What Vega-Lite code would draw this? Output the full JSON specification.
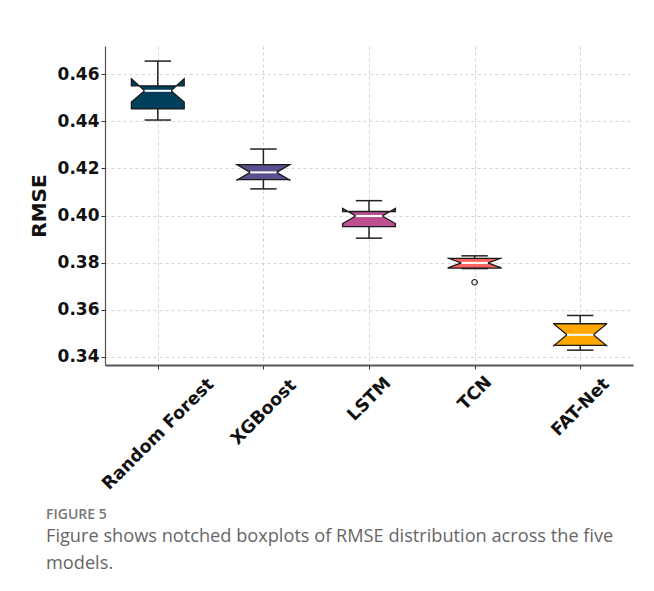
{
  "$schema": "https://vega.github.io/schema/vega-lite/v6.json",
  "width": 528,
  "height": 319,
  "autosize": {"type": "none"},
  "padding": {"left": 105, "top": 46, "right": 21, "bottom": 226},
  "background": "white",
  "config": {"view": {"stroke": null}, "font": "DejaVu Sans"},
  "title": {
    "text": "FIGURE 5",
    "subtitle": ["Figure shows notched boxplots of RMSE distribution across the five", "models."],
    "orient": "bottom",
    "anchor": "start",
    "frame": "group",
    "offset": 15,
    "dx": -59,
    "font": "Open Sans",
    "fontSize": 14,
    "fontWeight": 600,
    "color": "#777777",
    "subtitleFont": "Open Sans",
    "subtitleFontSize": 18.2,
    "subtitleColor": "#666666",
    "subtitleLineHeight": 27.6,
    "subtitlePadding": 6
  },
  "data": {
    "values": [
      {"model": "Random Forest", "wlo": 0.4405, "q1": 0.4452, "nlo": 0.4481, "median": 0.4529, "nhi": 0.458, "q3": 0.455, "whi": 0.4655},
      {"model": "XGBoost", "wlo": 0.4113, "q1": 0.4152, "nlo": 0.415, "median": 0.4183, "nhi": 0.4216, "q3": 0.4216, "whi": 0.4282},
      {"model": "LSTM", "wlo": 0.3904, "q1": 0.3953, "nlo": 0.3966, "median": 0.3998, "nhi": 0.403, "q3": 0.4017, "whi": 0.4063},
      {"model": "TCN", "wlo": 0.3775, "q1": 0.3777, "nlo": 0.3779, "median": 0.3799, "nhi": 0.3819, "q3": 0.3818, "whi": 0.3829, "outlier": 0.3717},
      {"model": "FAT-Net", "wlo": 0.3429, "q1": 0.3449, "nlo": 0.3448, "median": 0.3494, "nhi": 0.354, "q3": 0.3541, "whi": 0.3576}
    ]
  },
  "layer": [
    {
      "mark": {"type": "rule", "stroke": "#222222", "strokeWidth": 1.5},
      "encoding": {
        "x": {
          "field": "model",
          "type": "nominal",
          "sort": null,
          "scale": {"type": "point", "padding": 0.5},
          "axis": {
            "title": null,
            "labelAngle": -45,
            "labelAlign": "center",
            "labelBaseline": "middle",
            "labelPadding": {"expr": "datum.value === 'Random Forest' ? 65 : datum.value === 'XGBoost' ? 43 : datum.value === 'LSTM' ? 30 : datum.value === 'TCN' ? 24 : 38"},
            "labelFont": "DejaVu Sans",
            "labelFontWeight": "bold",
            "labelFontSize": 17.5,
            "labelColor": "#111111",
            "labelOverlap": false,
            "grid": true,
            "gridDash": [3, 3],
            "gridColor": "#cccccc",
            "gridWidth": 0.8,
            "tickSize": 4,
            "tickColor": "#333333",
            "domainColor": "#555555",
            "domainWidth": 2
          }
        },
        "y": {
          "field": "wlo",
          "type": "quantitative",
          "scale": {"domain": [0.3366, 0.4719], "nice": false, "zero": false},
          "axis": {
            "title": "RMSE",
            "values": [0.34, 0.36, 0.38, 0.40, 0.42, 0.44, 0.46],
            "format": ".2f",
            "labelFont": "DejaVu Sans",
            "labelFontWeight": "bold",
            "labelFontSize": 17,
            "labelColor": "#111111",
            "labelPadding": 2,
            "tickSize": 4,
            "tickColor": "#333333",
            "domainColor": "#555555",
            "domainWidth": 1.2,
            "grid": true,
            "gridDash": [3, 3],
            "gridColor": "#cccccc",
            "gridWidth": 0.8,
            "titleFont": "DejaVu Sans",
            "titleFontSize": 20,
            "titleFontWeight": "bold",
            "titleColor": "#111111",
            "titlePadding": 8
          }
        },
        "y2": {"field": "whi"}
      }
    },
    {
      "transform": [{"window": [{"op": "row_number", "as": "i"}]}],
      "layer": [
        {
          "transform": [
            {"fold": ["q1", "nlo", "median", "nhi", "q3"], "as": ["stat", "val"]},
            {"calculate": "[-1, 1]", "as": "side"},
            {"flatten": ["side"]},
            {"calculate": "indexof(['q1','nlo','median','nhi','q3'], datum.stat)", "as": "k"},
            {"calculate": "datum.side < 0 ? datum.k : 9 - datum.k", "as": "ord"},
            {"calculate": "datum.i + datum.side * (datum.stat === 'median' ? 0.125 : 0.25)", "as": "px"}
          ],
          "mark": {"type": "line", "interpolate": "linear-closed", "stroke": "#1a1a1a", "strokeWidth": 1.3},
          "encoding": {
            "x": {"field": "px", "type": "quantitative", "scale": {"domain": [0.5, 5.5], "nice": false, "zero": false}, "axis": null},
            "y": {"field": "val", "type": "quantitative"},
            "order": {"field": "ord", "type": "quantitative"},
            "fill": {
              "field": "model",
              "type": "nominal",
              "scale": {"domain": ["Random Forest", "XGBoost", "LSTM", "TCN", "FAT-Net"], "range": ["#003f5c", "#58508d", "#bc5090", "#ff6361", "#ffa600"]},
              "legend": null
            }
          }
        },
        {
          "transform": [
            {"fold": ["wlo", "whi"], "as": ["cap", "cv"]},
            {"calculate": "datum.i - 0.125", "as": "c1"},
            {"calculate": "datum.i + 0.125", "as": "c2"}
          ],
          "mark": {"type": "rule", "stroke": "#222222", "strokeWidth": 1.5},
          "encoding": {
            "x": {"field": "c1", "type": "quantitative", "scale": {"domain": [0.5, 5.5], "nice": false, "zero": false}, "axis": null},
            "x2": {"field": "c2"},
            "y": {"field": "cv", "type": "quantitative"}
          }
        },
        {
          "transform": [
            {"calculate": "datum.i - 0.125", "as": "m1"},
            {"calculate": "datum.i + 0.125", "as": "m2"}
          ],
          "mark": {"type": "rule", "stroke": "white", "strokeWidth": 2},
          "encoding": {
            "x": {"field": "m1", "type": "quantitative", "scale": {"domain": [0.5, 5.5], "nice": false, "zero": false}, "axis": null},
            "x2": {"field": "m2"},
            "y": {"field": "median", "type": "quantitative"}
          }
        },
        {
          "mark": {"type": "point", "shape": "circle", "filled": false, "stroke": "#222222", "strokeWidth": 1.2, "size": 30, "opacity": 1},
          "encoding": {
            "x": {"field": "i", "type": "quantitative", "scale": {"domain": [0.5, 5.5], "nice": false, "zero": false}, "axis": null},
            "y": {"field": "outlier", "type": "quantitative"}
          }
        }
      ]
    }
  ],
  "resolve": {"scale": {"x": "independent"}}
}
